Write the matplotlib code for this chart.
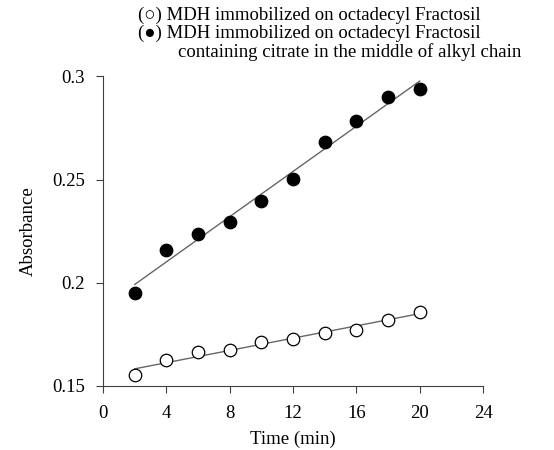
import numpy as np
import matplotlib
matplotlib.use("Agg")
import matplotlib.pyplot as plt

plt.rcParams['font.family'] = ['Liberation Serif', 'DejaVu Sans']

time_min = [2, 4, 6, 8, 10, 12, 14, 16, 18, 20]
abs_citrate = [0.195, 0.216, 0.2236, 0.2294, 0.2397, 0.2503, 0.268, 0.2785, 0.290, 0.294]
abs_octadecyl = [0.155, 0.1625, 0.1665, 0.1673, 0.1714, 0.1728, 0.1754, 0.177, 0.1819, 0.1858]
x_ticks = [0, 4, 8, 12, 16, 20, 24]
y_ticks = [0.15, 0.2, 0.25, 0.3]
y_tick_labels = ['0.15', '0.2', '0.25', '0.3']

legend_lines = ['(\u25cb) MDH immobilized on octadecyl Fractosil',
                '(\u25cf) MDH immobilized on octadecyl Fractosil',
                'containing citrate in the middle of alkyl chain']


def fit_line(x, y):
    k, b = np.polyfit(x, y, 1)
    xs = np.array([min(x), max(x)])
    return xs, k * xs + b


def main():
    fig = plt.figure(figsize=(5.54, 4.5), dpi=100)
    ax = fig.add_axes([0.186, 0.143, 0.686, 0.687])

    for y, face in [(abs_citrate, 'black'), (abs_octadecyl, 'white')]:
        xs, ys = fit_line(time_min, y)
        ax.plot(xs, ys, color='#666666', lw=1.0, zorder=1)
        ax.plot(time_min, y, 'o', ms=9, mfc=face, mec='black',
                mew=0.9, zorder=2)

    ax.set_xlim(0, 24)
    ax.set_ylim(0.15, 0.3)
    ax.set_xticks(x_ticks)
    ax.set_yticks(y_ticks)
    ax.set_yticklabels(y_tick_labels)
    for s in ['top', 'right']:
        ax.spines[s].set_visible(False)
    for s in ['left', 'bottom']:
        ax.spines[s].set_color('#404040')
    ax.tick_params(direction='out', length=5, width=0.8, labelsize=13.5,
                   color='#404040')
    ax.tick_params(axis='y', pad=8)
    ax.tick_params(axis='x', pad=9)
    ax.set_xlabel('Time (min)', fontsize=13.5, labelpad=6)
    ax.set_ylabel('Absorbance', fontsize=13.5, labelpad=11)

    for i, t in enumerate(legend_lines):
        x0 = 178 / 554 if i == 2 else 138 / 554
        fig.text(x0, 1 - (15 + 18.5 * i) / 450, t, fontsize=13.5,
                 va='center', ha='left')

    fig.savefig('out.png', dpi=100)


if __name__ == '__main__':
    main()
